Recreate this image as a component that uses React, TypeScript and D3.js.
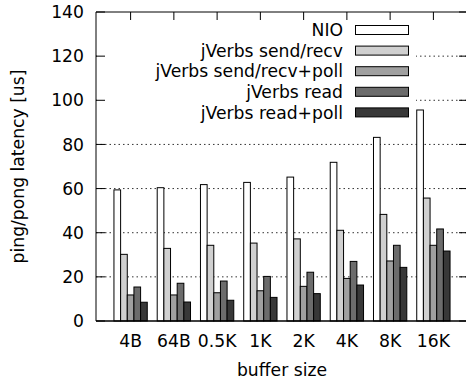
import React from "react";
import * as d3 from "d3";

const categories = ["4B", "64B", "0.5K", "1K", "2K", "4K", "8K", "16K"];
const seriesNames = ["NIO", "jVerbs send/recv", "jVerbs send/recv+poll", "jVerbs read", "jVerbs read+poll"];
const nio = [59.4, 60.4, 61.8, 62.8, 65.2, 71.9, 83.2, 95.6];
const sendRecv = [30.2, 32.9, 34.3, 35.3, 37.2, 41.1, 48.3, 55.7];
const sendRecvPoll = [11.8, 11.8, 12.8, 13.7, 15.7, 19.3, 27.2, 34.3];
const read = [15.4, 17.1, 18.1, 20.2, 22.1, 27.0, 34.3, 41.7];
const readPoll = [8.5, 8.6, 9.4, 10.7, 12.4, 16.3, 24.3, 31.7];
const yTicks = [0, 20, 40, 60, 80, 100, 120, 140];
const fills = ["#ffffff", "#d0d0d0", "#a0a0a0", "#6c6c6c", "#383838"];

const series = [nio, sendRecv, sendRecvPoll, read, readPoll];

export default function App() {
  const W = 466, H = 383;
  const left = 96, right = 468, top = 12, bottom = 321;
  const x = d3.scaleLinear().domain([-0.8, 7.8]).range([left, right]);
  const y = d3.scaleLinear().domain([0, 140]).range([bottom, top]);
  const barW = 0.154;
  const font = "DejaVu Sans, sans-serif";
  const fs = 17.2;
  const keyRight = 416;
  const keyBottom = 122;
  const rowY = (i: number) => 30 + i * 20.6;

  return (
    <svg width={W} height={H} style={{ position: "absolute", left: 0, top: 0 }}>
      <rect x={0} y={0} width={W} height={H} fill="#fff" />
      {/* grid */}
      {yTicks.filter(t => t > 0 && t < 140).map(t => (
        <line key={t} x1={left} x2={right} y1={y(t)} y2={y(t)} stroke="#000" strokeWidth={1} strokeDasharray="1.5,3" opacity={0.8} />
      ))}
      {/* key background */}
      <rect x={left + 1} y={top + 1} width={keyRight - left - 1} height={keyBottom - top} fill="#fff" />
      {/* bars */}
      {series.map((vals, s) =>
        vals.map((v, i) => {
          const x0 = x(i + (s - 2.5) * barW);
          const x1 = x(i + (s - 1.5) * barW);
          return (
            <rect key={`${s}-${i}`} x={x0} y={y(v)} width={x1 - x0} height={y(0) - y(v)} fill={fills[s]} stroke="#000" strokeWidth={1} />
          );
        })
      )}
      {/* ticks */}
      {yTicks.map(t => (
        <g key={t}>
          <line x1={left} x2={left + 9} y1={y(t)} y2={y(t)} stroke="#000" />
          <line x1={right - 9} x2={right} y1={y(t)} y2={y(t)} stroke="#000" />
          <text x={84} y={y(t)} dy="0.36em" textAnchor="end" fontFamily={font} fontSize={fs}>{t}</text>
        </g>
      ))}
      {categories.map((c, i) => (
        <g key={c}>
          <line x1={x(i)} x2={x(i)} y1={top} y2={top + 8} stroke="#000" />
          <text x={x(i)} y={347} textAnchor="middle" fontFamily={font} fontSize={fs}>{c}</text>
        </g>
      ))}
      {/* border */}
      <line x1={left} x2={right} y1={top} y2={top} stroke="#000" />
      <line x1={left} x2={left} y1={top} y2={bottom} stroke="#000" />
      <line x1={left} x2={right} y1={bottom} y2={bottom} stroke="#000" strokeWidth={1.5} />
      {/* key */}
      {seriesNames.map((n, i) => (
        <g key={n}>
          <text x={343} y={rowY(i)} dy="0.36em" textAnchor="end" fontFamily={font} fontSize={fs}>{n}</text>
          <rect x={355.5} y={rowY(i) - 4.5} width={53} height={9} fill={fills[i]} stroke="#000" />
        </g>
      ))}
      {/* axis labels */}
      <text x={(left + right) / 2} y={376} textAnchor="middle" fontFamily={font} fontSize={fs}>buffer size</text>
      <text transform={`translate(24,${(top + bottom) / 2}) rotate(-90)`} textAnchor="middle" fontFamily={font} fontSize={fs}>ping/pong latency [us]</text>
    </svg>
  );
}
